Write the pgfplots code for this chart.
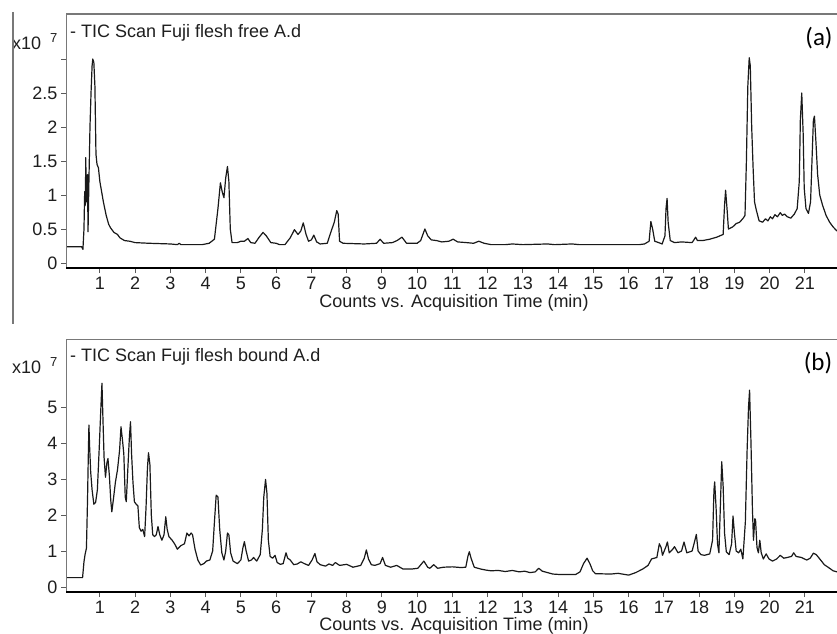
\documentclass[border=0pt]{standalone}
\usepackage{fontspec}
\setmainfont{Liberation Sans}
\newfontfamily\calibri{Carlito}
\usepackage{pgfplots}
\pgfplotsset{compat=1.18}
\definecolor{frameGray}{RGB}{120,120,120}
\definecolor{tickGray}{RGB}{90,90,90}
\definecolor{traceInk}{RGB}{25,25,25}
\definecolor{textInk}{RGB}{30,30,30}

% one chromatogram per panel, time (min) vs counts (x10^7)
\pgfplotstableread{
t v
0.04 0.24
0.48 0.24
0.52 0.20
0.55 0.50
0.57 1.05
0.59 0.85
0.60 1.55
0.62 0.90
0.63 1.25
0.64 0.95
0.65 1.30
0.665 0.46
0.69 1.20
0.72 2.00
0.75 2.50
0.78 2.90
0.80 3.00
0.83 2.95
0.86 2.60
0.89 1.60
0.92 1.45
0.96 1.40
1.00 1.20
1.05 1.05
1.10 0.90
1.18 0.70
1.25 0.57
1.30 0.52
1.40 0.45
1.50 0.42
1.57 0.37
1.70 0.33
1.85 0.32
2.00 0.30
2.40 0.29
3.00 0.28
3.20 0.27
3.25 0.29
3.30 0.27
3.90 0.27
4.10 0.29
4.25 0.35
4.35 0.80
4.42 1.18
4.47 1.05
4.52 0.96
4.57 1.25
4.62 1.42
4.66 1.20
4.70 0.50
4.75 0.30
4.90 0.30
5.00 0.32
5.10 0.32
5.20 0.36
5.28 0.30
5.40 0.29
5.52 0.38
5.63 0.45
5.72 0.40
5.85 0.30
6.00 0.29
6.10 0.27
6.25 0.27
6.40 0.37
6.52 0.49
6.62 0.42
6.70 0.47
6.77 0.59
6.85 0.42
6.92 0.32
7.00 0.34
7.07 0.41
7.15 0.31
7.25 0.28
7.45 0.29
7.55 0.45
7.65 0.60
7.72 0.77
7.76 0.72
7.80 0.32
7.90 0.29
8.50 0.28
8.85 0.29
8.95 0.35
9.05 0.29
9.30 0.30
9.43 0.33
9.57 0.38
9.70 0.29
10.00 0.29
10.10 0.33
10.22 0.50
10.30 0.40
10.40 0.34
10.55 0.33
10.70 0.31
10.90 0.32
11.02 0.35
11.15 0.31
11.40 0.30
11.60 0.29
11.75 0.32
11.90 0.29
12.10 0.27
12.50 0.27
12.70 0.28
13.00 0.27
13.70 0.28
13.90 0.27
14.40 0.28
14.60 0.27
15.00 0.27
16.30 0.27
16.45 0.28
16.58 0.32
16.63 0.61
16.68 0.50
16.74 0.32
16.85 0.30
16.95 0.28
17.03 0.40
17.06 0.80
17.09 0.95
17.12 0.60
17.18 0.33
17.30 0.30
17.50 0.31
17.80 0.30
17.90 0.38
17.95 0.33
18.10 0.33
18.30 0.35
18.50 0.38
18.68 0.42
18.72 0.85
18.75 1.07
18.79 0.80
18.83 0.50
18.95 0.53
19.05 0.58
19.15 0.60
19.25 0.66
19.30 0.70
19.34 1.50
19.38 2.60
19.42 3.02
19.45 2.90
19.49 2.00
19.53 1.40
19.57 0.90
19.62 0.78
19.70 0.62
19.80 0.60
19.88 0.65
19.95 0.62
20.02 0.68
20.08 0.65
20.15 0.71
20.22 0.68
20.30 0.74
20.36 0.70
20.42 0.72
20.50 0.68
20.60 0.66
20.70 0.72
20.78 0.80
20.84 1.20
20.87 2.10
20.91 2.50
20.95 1.90
20.98 1.10
21.03 0.80
21.10 0.73
21.16 0.90
21.20 1.50
21.24 2.10
21.27 2.16
21.31 1.80
21.36 1.30
21.42 1.00
21.50 0.85
21.60 0.70
21.70 0.60
21.80 0.53
21.91 0.47
}\freeTIC

\pgfplotstableread{
t v
0.04 0.26
0.51 0.26
0.55 0.70
0.58 0.90
0.62 1.08
0.65 2.40
0.67 3.50
0.69 4.50
0.71 3.90
0.74 3.20
0.78 2.70
0.83 2.30
0.88 2.35
0.93 2.70
0.98 3.80
1.03 5.00
1.06 5.66
1.09 4.60
1.12 3.60
1.16 3.05
1.20 3.45
1.23 3.57
1.27 3.10
1.31 2.40
1.34 2.09
1.38 2.40
1.44 2.90
1.50 3.25
1.56 3.80
1.60 4.45
1.64 4.10
1.68 3.70
1.72 2.50
1.75 2.37
1.79 3.20
1.84 4.20
1.87 4.59
1.90 3.70
1.94 2.90
1.98 2.37
2.03 2.30
2.08 2.25
2.12 1.65
2.17 1.55
2.22 1.60
2.27 1.40
2.31 2.20
2.35 3.30
2.38 3.73
2.42 3.40
2.46 2.00
2.50 1.45
2.55 1.40
2.60 1.45
2.65 1.68
2.70 1.45
2.76 1.30
2.82 1.45
2.87 1.95
2.91 1.60
2.96 1.40
3.05 1.30
3.12 1.20
3.20 1.05
3.30 1.15
3.40 1.20
3.47 1.50
3.53 1.42
3.59 1.50
3.63 1.45
3.70 1.05
3.78 0.75
3.86 0.61
3.95 0.65
4.02 0.72
4.12 0.75
4.20 1.00
4.25 1.80
4.30 2.55
4.35 2.50
4.40 1.60
4.46 0.95
4.52 0.75
4.57 1.00
4.62 1.50
4.66 1.45
4.71 0.95
4.78 0.72
4.90 0.65
5.00 0.75
5.06 1.10
5.10 1.26
5.15 1.00
5.22 0.72
5.30 0.75
5.36 0.82
5.45 0.72
5.55 0.90
5.61 1.60
5.65 2.50
5.70 2.99
5.74 2.60
5.78 1.30
5.83 0.85
5.90 0.80
5.97 0.88
6.03 0.68
6.12 0.63
6.20 0.65
6.28 0.95
6.33 0.80
6.40 0.75
6.50 0.62
6.60 0.64
6.70 0.70
6.80 0.65
6.92 0.60
7.02 0.75
7.10 0.93
7.16 0.70
7.25 0.62
7.40 0.58
7.50 0.64
7.60 0.60
7.68 0.68
7.80 0.60
8.00 0.63
8.18 0.55
8.40 0.60
8.50 0.80
8.56 1.03
8.62 0.78
8.70 0.62
8.80 0.60
8.95 0.65
9.02 0.82
9.10 0.60
9.25 0.55
9.42 0.60
9.60 0.50
9.85 0.50
10.02 0.52
10.19 0.72
10.30 0.55
10.36 0.52
10.47 0.62
10.58 0.52
10.75 0.55
11.00 0.56
11.25 0.54
11.38 0.55
11.44 0.85
11.48 0.98
11.53 0.80
11.62 0.55
11.80 0.50
11.95 0.47
12.10 0.45
12.30 0.46
12.50 0.43
12.70 0.46
12.90 0.42
13.05 0.44
13.20 0.40
13.35 0.42
13.45 0.52
13.55 0.44
13.70 0.40
13.85 0.36
14.00 0.35
14.50 0.35
14.62 0.42
14.72 0.65
14.82 0.80
14.90 0.65
14.98 0.45
15.06 0.37
15.50 0.36
15.70 0.38
16.00 0.33
16.20 0.40
16.40 0.50
16.55 0.60
16.65 0.78
16.80 0.82
16.87 1.20
16.92 1.10
16.96 0.88
17.05 1.10
17.10 1.25
17.15 0.95
17.25 1.05
17.30 1.12
17.40 0.95
17.50 1.00
17.57 1.25
17.65 0.95
17.80 1.00
17.88 1.30
17.92 1.46
17.97 1.00
18.05 0.90
18.15 0.88
18.30 0.92
18.38 1.30
18.42 2.70
18.44 2.92
18.48 2.20
18.52 1.20
18.56 0.95
18.60 2.20
18.64 3.48
18.68 2.80
18.72 1.50
18.77 0.98
18.85 0.90
18.92 1.20
18.96 1.97
19.00 1.50
19.05 1.00
19.12 0.95
19.18 1.05
19.24 0.78
19.31 1.80
19.36 3.80
19.40 5.00
19.43 5.47
19.47 4.00
19.51 2.20
19.54 1.30
19.58 1.90
19.60 1.86
19.64 1.10
19.68 0.95
19.72 1.30
19.76 0.95
19.82 0.78
19.90 0.92
19.98 0.78
20.08 0.72
20.20 0.78
20.30 0.88
20.40 0.80
20.50 0.82
20.62 0.85
20.68 0.95
20.75 0.85
20.90 0.82
21.05 0.75
21.15 0.80
21.24 0.94
21.32 0.90
21.42 0.78
21.55 0.62
21.70 0.52
21.80 0.45
21.91 0.42
}\boundTIC

\pgfplotsset{
  tic/.style={
    scale only axis,
    anchor=south west,
    width=771pt,
    xmin=0.04, xmax=21.91,
    axis line style={draw=none},
    xtick={1,...,21},
    xtick pos=bottom, ytick pos=left,
    tick align=outside,
    major tick length=5pt,
    tick style={draw=tickGray, line width=1pt},
    ticklabel style={font=\fontsize{18pt}{21pt}\selectfont, text=textInk},
    xticklabel style={inner sep=0pt, yshift=-3.5pt},
    /pgf/number format/assume math mode=true,
    clip=true
  },
  trace/.style={draw=traceInk, line width=1.2pt, line join=round}
}

\begin{document}
\begin{tikzpicture}
  \useasboundingbox (0,0) rectangle (837pt,633pt);
  \def\labelfont{\fontsize{18pt}{21pt}\selectfont}
  \def\expfont{\fontsize{13pt}{15pt}\selectfont}

  % (a) free
  \begin{axis}[tic,
    at={(66pt,365pt)}, height=254pt,
    ymin=-0.0735, ymax=3.662,
    ytick={0,0.5,1,1.5,2,2.5,3},
    yticklabels={0,0.5,1,1.5,2,2.5,{}}]
    \addplot[trace] table[x=t,y=v] {\freeTIC};
    \draw[frameGray, line width=1.5pt] (rel axis cs:0,0) -- (rel axis cs:0,1) -- (rel axis cs:1,1);
    \draw[black, line width=2pt] (rel axis cs:0,0) -- (rel axis cs:1,0);
  \end{axis}

  % (b) bound
  \begin{axis}[tic,
    at={(66pt,41pt)}, height=253pt,
    ymin=-0.139, ymax=6.89,
    ytick={0,1,2,3,4,5},
    yticklabels={0,1,2,3,4,5}]
    \addplot[trace] table[x=t,y=v] {\boundTIC};
    \draw[frameGray, line width=1.5pt] (rel axis cs:0,0) -- (rel axis cs:0,1) -- (rel axis cs:1,1);
    \draw[black, line width=2pt] (rel axis cs:0,0) -- (rel axis cs:1,0);
  \end{axis}

  % texts
  \node[anchor=west, inner sep=0pt, text=textInk, font=\labelfont] at (70pt,600pt) {- TIC Scan Fuji flesh free A.d};
  \node[anchor=west, inner sep=0pt, text=textInk, font=\labelfont] at (70pt,276pt) {- TIC Scan Fuji flesh bound A.d};
  \node[anchor=west, inner sep=0pt, text=textInk, font=\labelfont] at (12pt,590pt) {x10};
  \node[anchor=west, inner sep=0pt, text=textInk, font=\expfont] at (50pt,595pt) {7};
  \node[anchor=west, inner sep=0pt, text=textInk, font=\labelfont] at (12pt,266pt) {x10};
  \node[anchor=west, inner sep=0pt, text=textInk, font=\expfont] at (50pt,271pt) {7};
  \node[anchor=north, inner sep=0pt, text=textInk, font=\labelfont] at (454pt,339pt) {Counts vs. Acquisition Time (min)};
  \node[anchor=north, inner sep=0pt, text=textInk, font=\labelfont] at (454pt,16pt) {Counts vs. Acquisition Time (min)};
  \node[inner sep=0pt, font=\calibri\fontsize{25pt}{28pt}\selectfont] at (819pt,595pt) {(a)};
  \node[inner sep=0pt, font=\calibri\fontsize{25pt}{28pt}\selectfont] at (818pt,270pt) {(b)};

  \draw[frameGray, line width=1.5pt] (13pt,621pt) -- (13pt,309pt);
\end{tikzpicture}
\end{document}
